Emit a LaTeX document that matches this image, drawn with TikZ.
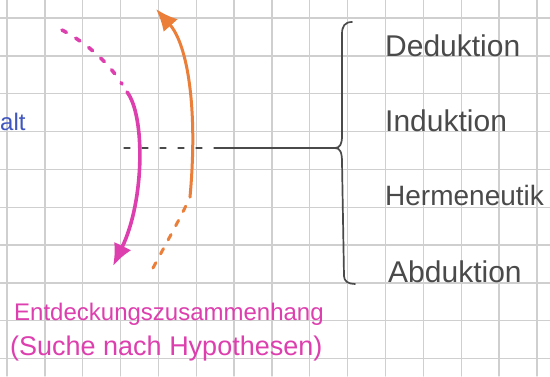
\documentclass[tikz,border=0pt]{standalone}
\usepackage{fontspec}
\setmainfont{Liberation Sans}
\usetikzlibrary{arrows.meta}
\definecolor{gridgray}{HTML}{CFCFCF}
\definecolor{pencilgray}{HTML}{4A4A4A}
\definecolor{notepink}{HTML}{DD3FAE}
\definecolor{noteorange}{HTML}{EB7F3A}
\definecolor{noteblue}{HTML}{3F55C0}

\begin{document}
\begin{tikzpicture}[
  x=1pt,
  y=-1pt,
  line join=round,
  line cap=round,
  gridline/.style={draw=gridgray,line width=1.3pt},
  pencil/.style={draw=pencilgray,line width=1.7pt},
  pencildash/.style={draw=pencilgray,line width=1.2pt,dash pattern=on 6pt off 12pt},
  pinkline/.style={draw=notepink,line width=3.6pt},
  pinkdash/.style={draw=notepink,line width=3.6pt,dash pattern=on 5pt off 11pt},
  orangeline/.style={draw=noteorange,line width=3pt},
  orangedash/.style={draw=noteorange,line width=3pt,dash pattern=on 6pt off 10pt},
  method/.style={anchor=west,text=pencilgray,inner sep=0pt,font=\fontsize{30}{30}\selectfont},
  pinktext/.style={anchor=base west,text=notepink,inner sep=0pt}
]
  % Squared paper, clipped to the page.
  \useasboundingbox (0,0) rectangle (550,376);
  \fill[white] (0,0) rectangle (550,376);
  \foreach \gx in {0,...,14} {
    \draw[gridline] ({7+37.85*\gx},0) -- ({7+37.85*\gx},376);
  }
  \foreach \gy in {0,...,9} {
    \draw[gridline] (0,{18+37.85*\gy}) -- (550,{18+37.85*\gy});
  }

  % Leftover word from the previous note.
  \node[anchor=base west,text=noteblue,inner sep=0pt,font=\fontsize{24}{24}\selectfont] (alt) at (0,130) {alt};

  % The four methods behind the brace.
  \node[method] (deduktion) at (385,46) {Deduktion};
  \node[method] (induktion) at (385,121) {Induktion};
  \node[method,font=\fontsize{28}{28}\selectfont] (hermeneutik) at (385,195) {Hermeneutik};
  \node[method] (abduktion) at (388,272) {Abduktion};

  % Brace and the line feeding into its tip.
  \coordinate (tip) at (335,148);
  \coordinate (linestart) at (124,148);
  \coordinate (dashend) at (218,148);
  \draw[pencil] (352,22) .. controls (345,22) and (342,26) .. (342,34) -- (342,136)
    .. controls (342,144) and (340,148) .. (tip)
    .. controls (340,148) and (342,152) .. (342,162) -- (344,276)
    .. controls (344,281) and (348,284) .. (355,284);
  \draw[pencildash] (linestart) -- (dashend);
  \draw[pencil] (dashend) -- (tip);

  % Pink arrow down, orange arrow back up.
  \coordinate (pinkstart) at (62,30);
  \coordinate (pinkbreak) at (122,84);
  \coordinate (pinksolid) at (127,92);
  \coordinate (pinktip) at (113,266);
  \draw[pinkdash] (pinkstart) .. controls (90,45) and (110,65) .. (pinkbreak);
  \draw[pinkline,-{Latex[length=22pt,width=19pt]}] (pinksolid)
    .. controls (145,115) and (145,200) .. (pinktip);

  \coordinate (orangestart) at (153,268);
  \coordinate (orangebreak) at (190,197);
  \coordinate (orangetip) at (156,9);
  \draw[orangedash] (orangestart) .. controls (168,240) and (182,215) .. (orangebreak);
  \draw[orangeline,-{Latex[length=22pt,width=19pt]}] (orangebreak)
    .. controls (198,110) and (188,45) .. (orangetip);

  % Caption under the arrows.
  \node[pinktext,font=\fontsize{24}{24}\selectfont] (entdeckung) at (14,320) {Entdeckungszusammenhang};
  \node[pinktext,font=\fontsize{27}{27}\selectfont] (suche) at (10,355) {(Suche nach Hypothesen)};
\end{tikzpicture}
\end{document}
